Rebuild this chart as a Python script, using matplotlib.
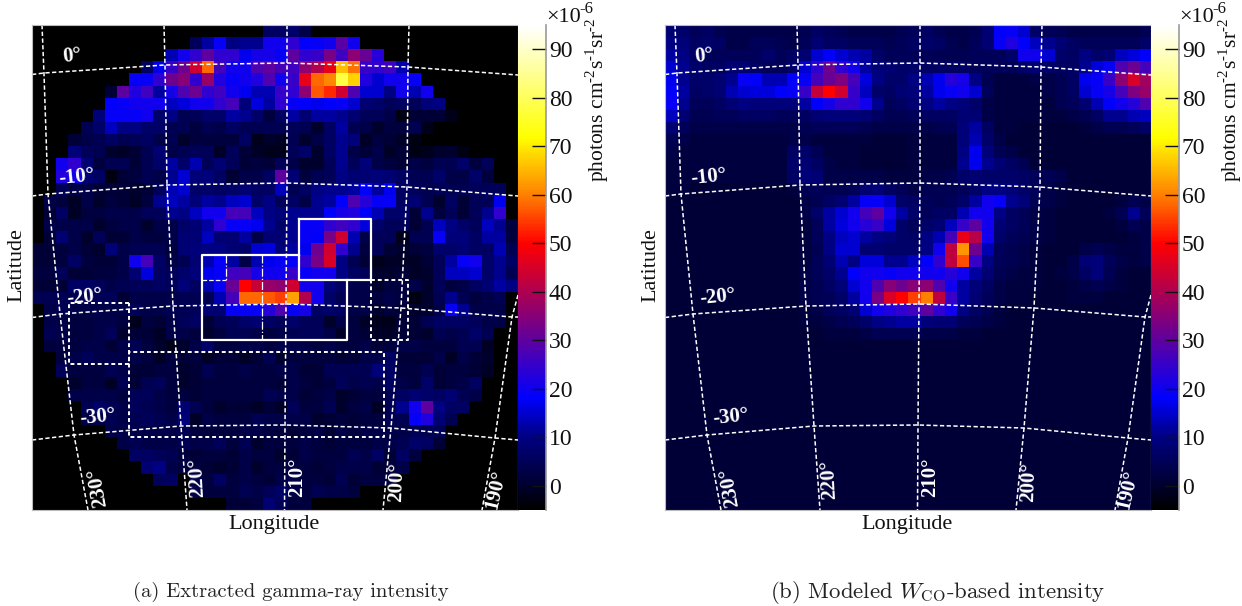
import numpy as np
import matplotlib
matplotlib.use("Agg")
import matplotlib.pyplot as plt
from matplotlib.colors import LinearSegmentedColormap

plt.rcParams["font.family"] = ["Liberation Serif"]
plt.rcParams["mathtext.fontset"] = "custom"
plt.rcParams["mathtext.rm"] = "Liberation Serif"

W, H = 1242, 606
M = -5  # outside the mask, drawn black

# intensity per cell, units of 1e-6 photons cm-2 s-1 sr-1
extracted = [
    [M,M,M,M,M,M,M,M,M,M, M,M,M,M,M,M,M,M,M,6, 6,7,3,M,M,M,M,M,M,M, M,M,M,M,M,M,M,M,M,M],
    [M,M,M,M,M,M,M,M,M,M, M,M,M,5,12,19,10,11,11,20, 20,24,18,19,20,29,20,M,M,M, M,M,M,M,M,M,M,M,M,M],
    [M,M,M,M,M,M,M,M,M,M, M,13,20,24,30,24,24,17,21,21, 19,30,24,25,33,26,36,31,23,M, M,M,M,M,M,M,M,M,M,M],
    [M,M,M,M,M,M,M,M,M,6, 17,25,32,44,58,27,20,20,28,30, 27,26,36,40,47,66,59,25,24,26, 13,M,M,M,M,M,M,M,M,M],
    [M,M,M,M,M,M,M,M,19,19, 24,32,35,24,37,22,19,20,22,28, 20,25,47,58,61,78,68,22,15,20, 20,19,M,M,M,M,M,M,M,M],
    [M,M,M,M,M,M,1,30,22,26, 12,21,28,32,24,26,20,17,13,13, 25,24,36,57,53,44,28,15,15,10, 20,13,20,M,M,M,M,M,M,M],
    [M,M,M,M,M,M,18,19,20,20, 20,14,16,20,20,24,27,9,16,12, 24,19,18,17,18,19,15,8,7,5, 6,5,9,10,M,M,M,M,M,M],
    [M,M,M,M,M,9,19,19,19,20, 7,10,4,5,7,7,12,11,7,2, 6,12,8,12,12,11,8,5,5,3, -3,1,1,1,-2,M,M,M,M,M],
    [M,M,M,M,4,7,14,10,10,7, 7,4,4,2,4,3,6,4,4,4, 4,5,4,0,6,12,4,3,0,2, 2,4,-2,M,M,M,M,M,M,M],
    [M,M,M,1,3,4,6,4,5,6, 3,4,0,2,2,2,2,6,-2,0, -1,4,0,3,6,11,9,-1,2,1, -1,-3,M,M,M,M,M,M,M,M],
    [M,M,M,9,5,4,0,-1,1,4, 8,3,4,5,5,-1,5,1,-1,-2, -2,5,7,0,6,11,3,1,3,-1, 1,-3,-2,0,0,-3,M,M,M,M],
    [M,M,20,24,8,2,4,4,1,4, 7,12,7,13,5,8,5,1,2,1, 5,3,0,0,5,11,5,9,3,2, 1,3,2,4,4,7,2,5,M,M],
    [M,M,22,20,8,6,-3,1,2,4, 3,11,15,9,9,6,1,3,3,6, 30,8,2,4,5,10,8,8,9,8, 6,4,4,7,3,3,7,2,M,M],
    [M,M,5,3,3,1,1,1,0,1, 5,13,15,7,7,6,7,8,6,6, 14,4,6,10,11,11,12,18,12,17, 6,5,4,4,4,4,5,5,5,M],
    [M,3,2,-1,3,0,2,1,-1,2, 11,14,12,9,12,11,14,15,7,10, 5,6,3,11,12,18,28,23,19,19, 6,8,4,0,6,1,5,5,17,M],
    [M,1,6,-1,2,2,3,3,3,5, 5,11,10,14,20,20,27,27,14,10, 9,11,11,11,18,21,22,18,13,7, 7,1,11,2,5,1,5,11,24,M],
    [M,3,3,3,3,0,2,3,3,0, 3,3,7,8,12,24,19,19,17,11, 7,11,19,19,24,26,24,16,7,5, 5,1,4,14,10,7,5,14,11,2],
    [M,1,8,3,0,5,1,1,3,2, 2,3,8,8,14,8,8,12,3,8, 8,11,19,18,33,44,13,3,5,5, -2,4,4,19,9,9,6,12,12,2],
    [1,1,2,3,1,0,9,3,4,4, 4,2,8,9,10,10,8,7,15,16, 9,12,17,32,44,24,11,2,5,1, 0,1,2,7,7,8,6,6,13,4],
    [1,1,2,6,2,1,1,3,20,27, 6,3,4,8,13,19,12,3,13,17, 19,19,24,33,45,10,4,1,-2,-1, -1,-1,1,5,12,19,20,7,11,6],
    [2,2,5,1,1,2,2,3,8,16, 6,5,7,9,17,19,26,27,21,20, 20,25,19,20,20,10,6,5,0,0, 1,-1,0,5,14,14,15,7,11,4],
    [1,1,1,6,6,5,3,4,5,5, 6,5,9,6,13,19,31,50,43,37, 36,44,20,20,9,6,3,3,0,2, 2,3,0,5,2,3,6,8,12,10],
    [4,4,4,4,5,5,5,1,3,3, 3,3,4,4,4,13,27,58,58,57, 55,63,40,20,7,4,3,3,2,3, 2,-3,0,4,11,4,2,3,4,M],
    [M,3,4,3,3,3,3,3,5,3, 3,4,4,5,8,8,19,19,19,23, 28,19,21,6,7,6,3,3,0,2, 1,0,0,3,19,11,3,3,3,M],
    [M,3,3,2,2,3,3,2,-2,2, 1,3,5,6,1,4,5,7,8,6, 5,7,5,5,0,3,2,-1,-2,-2, 1,1,4,6,6,6,5,3,3,M],
    [M,4,3,2,2,3,5,0,1,1, -1,3,3,2,0,2,4,4,3,2, 3,4,5,5,3,-1,2,1,-1,-1, 1,1,0,4,3,4,7,4,M,M],
    [M,2,2,2,3,3,1,3,4,2, 0,-2,0,3,7,2,2,3,3,2, 3,3,3,2,3,2,2,3,1,2, 3,3,2,2,2,4,4,-1,M,M],
    [M,M,2,3,5,3,3,3,3,2, -1,2,1,2,-1,1,1,-1,1,4, 0,2,2,2,2,1,1,3,3,6, 1,1,1,3,-1,3,1,0,M,M],
    [M,M,5,2,2,2,4,3,1,1, 2,2,0,1,4,2,2,3,2,2, 3,3,1,1,4,4,4,4,9,6, 2,2,4,1,2,2,1,-1,M,M],
    [M,M,M,0,2,2,-1,4,1,4, 5,2,0,1,2,2,2,2,2,2, 1,3,2,1,2,5,3,4,3,6, 3,2,7,1,2,3,6,M,M,M],
    [M,M,M,3,3,3,3,2,5,5, 3,2,2,1,2,2,2,2,2,4, 3,3,1,2,3,0,1,2,2,4, 6,8,7,6,8,4,3,M,M,M],
    [M,M,M,M,4,7,4,3,5,4, 3,2,8,4,2,0,1,1,-1,1, -1,5,2,2,4,0,2,3,-1,4, 11,20,30,10,6,6,M,M,M,M],
    [M,M,M,M,3,3,4,3,4,5, 4,3,9,-1,3,2,2,2,4,3, 3,3,3,0,1,2,1,2,2,4, 4,19,22,8,4,M,M,M,M,M],
    [M,M,M,M,M,M,3,3,3,3, 3,3,4,2,2,2,2,3,3,2, 2,1,2,3,1,3,2,3,3,3, 3,4,4,5,M,M,M,M,M,M],
    [M,M,M,M,M,M,M,3,4,3, 3,3,4,3,3,5,2,4,0,2, 2,2,3,2,1,2,2,2,3,3, 4,7,6,1,M,M,M,M,M,M],
    [M,M,M,M,M,M,M,M,6,6, 5,4,2,1,2,2,1,3,2,2, 0,1,3,2,2,2,4,3,6,1, 6,2,M,M,M,M,M,M,M,M],
    [M,M,M,M,M,M,M,M,M,8, 10,3,2,2,1,0,1,3,0,2, 2,2,2,1,2,3,3,3,1,1, 3,M,M,M,M,M,M,M,M,M],
    [M,M,M,M,M,M,M,M,M,M, 5,6,M,3,2,6,2,3,2,1, 3,3,2,2,1,4,1,2,2,2, M,M,M,M,M,M,M,M,M,M],
    [M,M,M,M,M,M,M,M,M,M, M,M,M,3,2,2,2,4,3,5, 7,3,2,4,3,3,2,M,M,M, M,M,M,M,M,M,M,M,M,M],
    [M,M,M,M,M,M,M,M,M,M, M,M,M,M,M,M,1,1,2,8, 5,2,2,M,M,M,M,M,M,M, M,M,M,M,M,M,M,M,M,M],
]

ones = [1] * 10
twos = [2] * 10
modeled = [
    [8,7,5,6,4,3,3,3,3,3, 3,4,6,5,4,3,3,3,3,4, 5,6,4,3,3,4,8,18,19,15, 7,5,4,3,3,3,3,3,3,4],
    [10,9,6,7,6,3,3,5,5,4, 3,5,8,6,6,5,5,5,4,5, 6,7,6,4,3,5,8,19,22,18, 14,11,8,6,5,5,5,5,5,7],
    [12,10,6,5,5,5,5,5,7,5, 6,8,15,18,15,13,12,7,5,5, 5,5,4,4,4,5,5,5,7,20, 20,15,7,6,10,7,8,14,16,18],
    [15,11,7,6,6,8,8,6,5,5, 7,15,24,32,24,20,12,9,8,7, 7,6,6,6,6,5,5,5,5,7, 8,7,6,6,11,16,19,28,32,27],
    [17,11,7,7,8,11,19,18,13,13, 18,19,27,31,34,27,16,10,7,7, 10,13,17,23,21,10,4,2,2,2, 3,3,4,6,17,19,25,36,45,38],
    [18,12,6,7,8,13,15,16,16,18, 19,25,43,50,44,25,14,7,6,8, 9,12,17,19,20,15,5,2,2,2, 2,3,4,6,15,19,21,27,34,37],
    [19,11,5,5,6,8,10,9,9,9, 9,12,18,21,24,24,20,11,5,6, 8,10,12,10,9,7,3,2,2,2, 2,2,4,5,8,13,18,20,23,28],
    [14,8,4,4,5,5,6,6,6,5, 5,6,8,9,9,9,8,6,4,4, 5,6,6,6,8,8,3,2,2,2, 2,2,2,3,4,6,11,11,13,14],
    [8,5,3,3,3,3,3,3,3,3, 3,4,5,5,5,5,4,3,3,3, 3,3,4,4,9,12,6,2,2,1, 1,1,1,1,2,3,4,4,5,6],
    [4,3,2,2,2,2,2,2,2,2, 3,3,2,2,2,2,2,1,1,1, 2,2,2,2,9,13,7,3,1,1] + ones,
    [3,2,2,2,2,2,2,2,2,2, 6,7,4,2,2,2,1,1,1,1, 2,2,2,2,10,17,9,4,3,1] + ones,
    twos + [7,8,6,3,2,2,1,1,1,1, 2,2,2,2,11,17,11,8,6,4] + ones,
    twos + [6,9,8,3,3,3,3,3,2,2, 2,3,3,4,7,8,7,7,7,6, 5,4,3,1,1,1,1,1,1,1],
    [2,2,1,1,1,1,1,1,1,1, 2,4,5,4,4,5,8,9,6,5, 3,4,4,4,5,7,10,10,9,7, 5,3,2,1,1,1,1,1,1,1],
    ones + [1,3,4,6,8,12,19,19,15,7, 6,5,4,5,7,12,20,19,11,9, 4,3,2,1,1,1,1,2,4,3],
    ones + [1,3,7,12,15,20,27,30,20,12, 7,5,6,6,13,20,20,10,6,5, 3,2,1,1,1,1,2,4,11,5],
    ones + [1,2,5,12,16,20,23,25,16,7, 5,7,8,14,25,30,20,8,6,5, 3,2,1,1,1,1,1,2,4,3],
    ones + [1,2,5,10,14,15,12,10,9,7, 6,10,13,27,47,41,20,7,5,4, 3,2,1,1,1,1,1,1,2,3],
    ones + [1,2,4,10,15,15,8,8,7,7, 7,10,20,42,62,32,13,5,4,3, 2,1,1,1,3,4,3,2,2,3],
    ones + [1,2,5,8,13,10,16,16,11,11, 14,18,24,42,56,25,10,5,4,3, 2,1,1,3,8,9,5,3,2,3],
    ones + [1,3,5,7,11,18,20,20,19,20, 20,20,20,23,20,12,8,4,3,2, 2,1,2,3,6,9,4,2,1,1],
    ones + [1,3,4,6,9,15,20,28,35,32, 35,36,28,20,12,9,6,3,2,2, 2,1,1,2,3,4,3,2,1,1],
    ones + [1,3,4,5,7,12,20,33,45,50, 55,60,42,25,12,8,5,3,2,2, 1,1,1,2,2,2,1,1,1,1],
    ones + [1,2,3,5,6,8,15,20,22,24, 26,30,24,20,10,6,4,2,1,1] + ones,
    ones + [1,2,2,3,4,5,7,10,11,12, 12,9,8,8,5,4,3,2,1,1] + ones,
    ones + [1,1,1,2,2,2,3,4,4,4, 4,3,3,3,2,2,1,1,1,1] + ones,
] + [[1] * 40 for _ in range(14)]

cbar_ticks = [0, 10, 20, 30, 40, 50, 60, 70, 80, 90]
vmin, vmax = -5, 95

# graticule crossings in left-panel picture pixels
lat_lines = {
    "0": ([32, 44, 165, 287, 408, 518], [74.5, 73, 65, 63, 67, 75]),
    "-10": ([32, 48, 167, 287, 407, 518], [196, 194, 185, 183, 187, 196]),
    "-20": ([32, 60, 173, 286, 401, 512, 518], [317.5, 314, 306, 304, 308, 317, 317]),
    "-30": ([32, 74, 181, 285, 391, 495, 518], [440, 435, 426, 425, 428, 438, 440]),
}
lon_lines = {
    "230": ([42, 44, 48, 60, 74, 88], [25, 74, 194, 314, 435, 510]),
    "220": ([164, 165, 167, 173, 181, 187], [25, 65, 185, 306, 426, 510]),
    "210": ([287, 287, 287, 286, 285, 284.5], [25, 63, 183, 304, 425, 510]),
    "200": ([409, 408, 407, 401, 391, 383], [25, 67, 187, 308, 428, 510]),
    "190": ([518, 512, 495, 482], [295, 317, 438, 510]),
}
# (text, x, y, rotation)
labels_a = [("0°", 72, 56, 6), ("-10°", 77, 177, 6), ("-20°", 85, 297, 6), ("-30°", 98, 417, 6),
            ("230°", 98, 487, 100), ("220°", 197, 478, 93), ("210°", 297, 477, 90),
            ("200°", 397, 482, 88), ("190°", 496, 490, 77)]
labels_b = [("0°", 704, 56, 6), ("-10°", 709, 177, 6), ("-20°", 718, 297, 6), ("-30°", 731, 417, 6),
            ("230°", 730, 487, 100), ("220°", 829, 480, 93), ("210°", 930, 477, 90),
            ("200°", 1029, 482, 88), ("190°", 1128, 490, 77)]

# analysis regions on the left panel
solid_regions = [
    ([299, 371, 371, 299, 299], [219, 219, 280, 280, 219]),
    ([299, 202, 202, 347, 347], [255, 255, 340, 340, 280]),
]
dashed_regions = [
    ([129, 69, 69, 129, 129, 384, 384, 129, 129], [303, 303, 364, 364, 352, 352, 437, 437, 303]),
    ([371, 408, 408, 371, 371], [280, 280, 340, 340, 280]),
]

cmap = LinearSegmentedColormap.from_list("heat", [
    (0.00, (0, 0, 0)),
    (0.05, (0, 0, 0.19)),
    (0.15, (0, 0, 0.52)),
    (0.23, (0, 0, 1)),
    (0.55, (1, 0, 0)),
    (0.65, (1, 0.5, 0)),
    (0.77, (1, 1, 0)),
    (1.00, (1, 1, 1)),
])


def axes_px(fig, x0, y0, x1, y1):
    return fig.add_axes([x0 / W, 1 - y1 / H, (x1 - x0) / W, (y1 - y0) / H])


def draw_panel(fig, x0, grid, labels):
    ax = axes_px(fig, x0, 25, x0 + 486, 510)
    ax.imshow(np.array(grid, dtype=float), cmap=cmap, vmin=vmin, vmax=vmax,
              extent=(32, 518, 510, 25), aspect="auto", interpolation="nearest")
    for xs, ys in list(lat_lines.values()) + list(lon_lines.values()):
        ax.plot(xs, ys, color="white", lw=1.1, ls=(0, (2.8, 1.6)))
    ax.set_xlim(32, 518)
    ax.set_ylim(510, 25)
    ax.set_xticks([])
    ax.set_yticks([])
    for s in ax.spines.values():
        s.set_color("#bbbbbb")
        s.set_linewidth(0.8)
    shift = x0 - 32
    for txt, x, y, rot in labels:
        ax.text(x - shift, y, txt, color="white", fontsize=15, fontweight="bold",
                rotation=rot, ha="center", va="center", rotation_mode="anchor")
    return ax


def draw_cbar(fig, x0):
    cax = axes_px(fig, x0, 25, x0 + 28, 510)
    ramp = np.linspace(vmax, vmin, 400).reshape(-1, 1)
    cax.imshow(ramp, cmap=cmap, vmin=vmin, vmax=vmax, aspect="auto",
               extent=(0, 1, vmin, vmax))
    cax.set_xticks([])
    cax.yaxis.tick_right()
    cax.set_yticks(cbar_ticks)
    cax.tick_params(axis="y", direction="in", length=10, width=1, labelsize=17, pad=2,
                    color="#111111", labelcolor="#111111")
    for side in ["left", "top", "bottom"]:
        cax.spines[side].set_visible(False)
    cax.spines["right"].set_color("#999999")
    cax.spines["right"].set_linewidth(1.2)
    fig.text((x0 + 28) / W, 1 - 17 / H, "×10", fontsize=16, ha="left", va="center", color="#111111")
    fig.text((x0 + 61) / W, 1 - 9 / H, "-6", fontsize=12, ha="left", va="center", color="#111111")
    fig.text((x0 + 79) / W, 1 - 100 / H, r"photons cm$^{\text{-2}}$s$^{\text{-1}}$sr$^{\text{-2}}$",
             fontsize=15.5, rotation=90, ha="center", va="center", color="#111111")


fig = plt.figure(figsize=(W / 100, H / 100), dpi=100)

ax_a = draw_panel(fig, 32, extracted, labels_a)
for xs, ys in solid_regions:
    ax_a.plot(xs, ys, color="white", lw=1.6)
for xs, ys in dashed_regions:
    ax_a.plot(xs, ys, color="white", lw=1.4, ls=(0, (2, 1.5)))
ax_a.plot([226, 226], [255, 280], color="white", lw=0.9, ls="-.")
ax_a.plot([262, 262], [255, 340], color="white", lw=0.9, ls="-.")
ax_a.plot([202, 226], [280, 280], color="white", lw=0.9, ls="--")

draw_panel(fig, 665, modeled, labels_b)
draw_cbar(fig, 518)
draw_cbar(fig, 1151)

for cx, cy_lat, lab_x in [(274, 265, 17), (907, 265, 651)]:
    fig.text(cx / W, 1 - 524 / H, "Longitude", fontsize=16, ha="center", va="center", color="#111111")
    fig.text(lab_x / W, 1 - cy_lat / H, "Latitude", fontsize=16, rotation=90,
             ha="center", va="center", color="#111111")

fig.text(291 / W, 1 - 592 / H, "(a) Extracted gamma-ray intensity", family="cmr10",
         fontsize=14.8, ha="center", va="center", color="#222222")
fig.text(938 / W, 1 - 592 / H, r"(b) Modeled $W_{\mathrm{CO}}$-based intensity", family="cmr10",
         math_fontfamily="cm", fontsize=16.4, ha="center", va="center", color="#222222")

fig.savefig("out.png", dpi=100)
plt.close(fig)
